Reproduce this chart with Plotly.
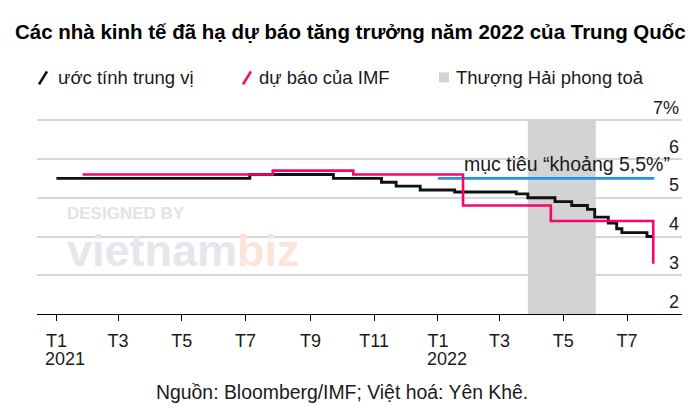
import plotly.graph_objects as go

# ---------------- data ----------------
median_dates = ["2021-01-01", "2021-07-05", "2021-09-23", "2021-11-08", "2021-11-22",
                "2021-12-15", "2022-01-17", "2022-03-17", "2022-03-28", "2022-04-23",
                "2022-05-09", "2022-05-24", "2022-05-31", "2022-06-13", "2022-06-21",
                "2022-06-26", "2022-07-20", "2022-07-25"]
median_values = [5.5, 5.6, 5.5, 5.4, 5.3,
                 5.2, 5.15, 5.1, 5.0, 4.9,
                 4.8, 4.7, 4.5, 4.35, 4.2,
                 4.1, 4.0, 4.0]

imf_dates = ["2021-01-26", "2021-07-27", "2021-10-12", "2022-01-25", "2022-04-19", "2022-07-26"]
imf_values = [5.6, 5.7, 5.6, 4.8, 4.4, 3.3]

target_dates = ["2022-01-01", "2022-07-27"]
target_values = [5.5, 5.5]

lockdown_start = "2022-03-28"
lockdown_end = "2022-06-01"

tick_dates = ["2021-01-01", "2021-03-01", "2021-05-01", "2021-07-01", "2021-09-01",
              "2021-11-01", "2022-01-01", "2022-03-01", "2022-05-01", "2022-07-01"]
tick_labels = ["T1", "T3", "T5", "T7", "T9", "T11", "T1", "T3", "T5", "T7"]
year_dates = ["2021-01-01", "2022-01-01"]
year_labels = ["2021", "2022"]

y_ticks = [2, 3, 4, 5, 6, 7]
y_labels = ["2", "3", "4", "5", "6", "7%"]

title_text = "Các nhà kinh tế đã hạ dự báo tăng trưởng năm 2022 của Trung Quốc"
legend_labels = ["ước tính trung vị", "dự báo của IMF", "Thượng Hải phong toả"]
target_label = "mục tiêu “khoảng 5,5%”"
source_text = "Nguồn: Bloomberg/IMF; Việt hoá: Yên Khê."

# ---------------- layout helpers ----------------
W, H = 700, 414
L, R = 37, 682
Y7, B = 120.0, 314.3            # pixel rows of the 7% gridline and of the x axis
Y_MIN, Y_MAX = 2, 7.6
UNIT = (B - Y7) / 5.0
T = B - (Y_MAX - Y_MIN) * UNIT  # top of plotting area (room for the "7%" label)
FONT = "Liberation Sans"
BLACK = "#111111"
PINK = "#f5066f"
BLUE = "#1f95ee"
GRAY = "#d3d3d3"
TXT = "#1a1a1a"


def px(x):
    return (x - L) / (R - L)


def py(y):
    return (B - y) / (B - T)


fig = go.Figure()

fig.add_trace(go.Scatter(x=target_dates, y=target_values, mode="lines",
                         line=dict(color=BLUE, width=2.6), showlegend=False,
                         name="mục tiêu"))
fig.add_trace(go.Scatter(x=median_dates, y=median_values, mode="lines",
                         line=dict(color=BLACK, width=2.9, shape="hv"),
                         showlegend=False, name=legend_labels[0]))
fig.add_trace(go.Scatter(x=imf_dates, y=imf_values, mode="lines",
                         line=dict(color=PINK, width=2.6, shape="hv"),
                         showlegend=False, name=legend_labels[1]))

shapes = [
    dict(type="rect", xref="x", yref="y", x0=lockdown_start, x1=lockdown_end,
         y0=2, y1=7, fillcolor=GRAY, line=dict(width=0), layer="between"),
    # legend icons
    dict(type="line", xref="paper", yref="paper", x0=px(39), y0=py(84), x1=px(47), y1=py(71),
         line=dict(color=BLACK, width=2.6)),
    dict(type="line", xref="paper", yref="paper", x0=px(243), y0=py(84), x1=px(251), y1=py(71),
         line=dict(color=PINK, width=2.6)),
    dict(type="rect", xref="paper", yref="paper", x0=px(439), y0=py(82), x1=px(449), y1=py(72),
         fillcolor=GRAY, line=dict(width=0)),
]

annotations = [
    dict(text="<b>" + title_text + "</b>", xref="paper", yref="paper", x=px(350.5), y=py(31),
         xanchor="center", yanchor="middle", showarrow=False,
         font=dict(family=FONT, size=20.5, color="#000000")),
    dict(text=legend_labels[0], xref="paper", yref="paper", x=px(56), y=py(77),
         xanchor="left", yanchor="middle", showarrow=False,
         font=dict(family=FONT, size=18.5, color=TXT)),
    dict(text=legend_labels[1], xref="paper", yref="paper", x=px(257), y=py(77),
         xanchor="left", yanchor="middle", showarrow=False,
         font=dict(family=FONT, size=18.5, color=TXT)),
    dict(text=legend_labels[2], xref="paper", yref="paper", x=px(454), y=py(77),
         xanchor="left", yanchor="middle", showarrow=False,
         font=dict(family=FONT, size=18.5, color=TXT)),
    dict(text=target_label, xref="paper", yref="y", x=px(462), y=5.5,
         xanchor="left", yanchor="bottom", yshift=1, showarrow=False,
         font=dict(family=FONT, size=19.5, color=TXT)),
    dict(text=source_text, xref="paper", yref="paper", x=px(341.5), y=py(393),
         xanchor="center", yanchor="middle", showarrow=False,
         font=dict(family=FONT, size=19.4, color=TXT)),
    # faint watermark
    dict(text="<b>DESIGNED BY</b>", xref="paper", yref="paper", x=px(66), y=py(224),
         xanchor="left", yanchor="bottom", borderpad=0, showarrow=False,
         font=dict(family=FONT, size=17, color="#e2e2e8")),
    dict(text="<b><span style='color:#e6e6ec'>vietnam</span>"
              "<span style='color:#fbe5da'>biz</span></b>",
         xref="paper", yref="paper", x=px(66), y=py(224),
         xanchor="left", yanchor="top", borderpad=0, showarrow=False,
         font=dict(family=FONT, size=45, color="#e6e6ec")),
]

for d, lab in zip(year_dates, year_labels):
    annotations.append(dict(text=lab, xref="x", yref="paper", x=d, y=py(359.5),
                            xanchor="left", yanchor="middle", xshift=-12, borderpad=0,
                            showarrow=False, font=dict(family=FONT, size=18, color=TXT)))

fig.update_layout(
    width=W, height=H,
    margin=dict(l=L, r=W - R, t=T, b=H - B, pad=0, autoexpand=False),
    paper_bgcolor="white", plot_bgcolor="white",
    shapes=shapes, annotations=annotations, showlegend=False,
    font=dict(family=FONT, size=18, color=TXT),
)

fig.update_xaxes(
    type="date", range=["2020-12-13 10:00", "2022-08-22 12:00"],
    tickvals=tick_dates, ticktext=tick_labels,
    showgrid=False, zeroline=False, automargin=False,
    showline=True, linecolor="#000000", linewidth=1,
    ticks="outside", ticklen=6, tickwidth=1, tickcolor="#000000",
    ticklabelstandoff=4,
    tickfont=dict(family=FONT, size=18, color=TXT),
)

fig.update_yaxes(
    range=[Y_MIN, Y_MAX], side="right", tickvals=y_ticks, ticktext=y_labels,
    showgrid=True, gridcolor="#d6d6d6", gridwidth=1.5, automargin=False,
    zeroline=False, showline=False, ticks="",
    ticklabelposition="inside top",
    tickfont=dict(family=FONT, size=18, color=TXT),
)

fig.write_html("out.html", config={"displayModeBar": False},
               post_script="document.body.style.margin='0px';")
